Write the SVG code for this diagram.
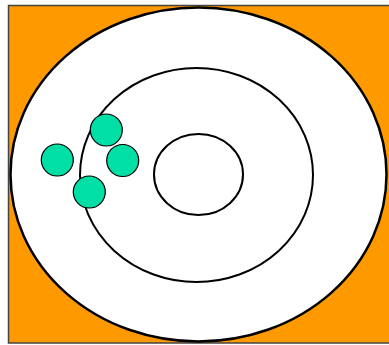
<svg xmlns="http://www.w3.org/2000/svg" width="389" height="345" viewBox="0 0 389 345">
<style>
.ring{fill:none;stroke:#000;stroke-width:2}
.dot{fill:#00DFA5;stroke:#000;stroke-width:1.2}
</style>
<rect x="8.5" y="5.5" width="385" height="337.5" fill="#FF9900" stroke="#444" stroke-width="1.5"/>
<g id="outer"><ellipse cx="198.5" cy="174.5" rx="188" ry="167" fill="#fff" stroke="#000" stroke-width="2.5"/></g>
<g id="middle"><ellipse class="ring" cx="196.5" cy="175" rx="116.5" ry="107"/></g>
<g id="inner"><ellipse class="ring" cx="198.5" cy="174.5" rx="44.5" ry="40.5"/></g>
<g id="dot1"><circle class="dot" cx="106.3" cy="130" r="16"/></g>
<g id="dot2"><circle class="dot" cx="57.3" cy="160" r="16"/></g>
<g id="dot3"><circle class="dot" cx="122.7" cy="160.5" r="16"/></g>
<g id="dot4"><circle class="dot" cx="89.3" cy="192" r="16"/></g>
</svg>
